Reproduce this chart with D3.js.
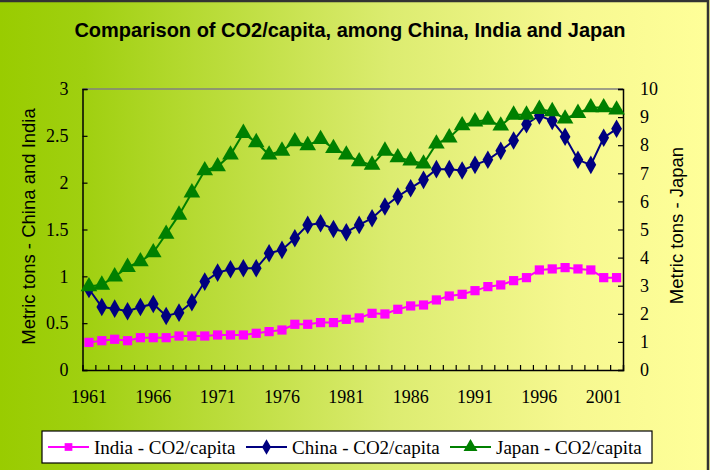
<!DOCTYPE html>
<html>
<head>
<meta charset="utf-8">
<script src="https://cdn.jsdelivr.net/npm/d3@7"></script>
<style>
  html, body { margin: 0; padding: 0; background: #fff; }
  svg { display: block; }
</style>
</head>
<body>
<svg id="chart" width="710" height="470"></svg>
<script>
const years = d3.range(1961, 2003);
const india = [0.295,0.313,0.328,0.313,0.345,0.345,0.345,0.363,0.363,0.363,0.374,0.374,0.374,0.392,
  0.41,0.427,0.488,0.488,0.506,0.506,0.541,0.556,0.605,0.598,0.648,0.684,0.694,0.748,
  0.79,0.808,0.847,0.89,0.908,0.954,0.986,1.068,1.079,1.093,1.079,1.068,0.986,0.986];
const china = [0.865,0.673,0.655,0.627,0.673,0.705,0.577,0.612,0.723,0.944,1.04,1.076,1.086,1.086,
  1.247,1.282,1.407,1.549,1.567,1.506,1.471,1.549,1.62,1.745,1.852,1.941,2.03,2.144,
  2.144,2.13,2.19,2.244,2.34,2.45,2.625,2.717,2.66,2.49,2.244,2.19,2.48,2.575];
const japan = [2.97,3.03,3.32,3.66,3.86,4.18,4.84,5.52,6.31,7.10,7.24,7.66,8.43,8.10,
  7.66,7.80,8.13,7.99,8.21,7.89,7.66,7.42,7.30,7.80,7.56,7.45,7.34,8.05,
  8.27,8.70,8.84,8.90,8.69,9.08,9.08,9.28,9.20,8.94,9.14,9.34,9.34,9.26];
const leftTicks = [0, 0.5, 1, 1.5, 2, 2.5, 3];
const rightTicks = [0,1,2,3,4,5,6,7,8,9,10];
const xLabelYears = [1961,1966,1971,1976,1981,1986,1991,1996,2001];
const seriesNames = ["India - CO2/capita", "China - CO2/capita", "Japan - CO2/capita"];
const chartTitle = "Comparison of CO2/capita, among China, India and Japan";
const leftTitle = "Metric tons - China and India";
const rightTitle = "Metric tons - Japan";

const svg = d3.select("#chart");
const W = 710, H = 470;
const m = {left: 82.5, right: 623, top: 89, bottom: 370};

const defs = svg.append("defs");
const grad = defs.append("linearGradient").attr("id", "bg").attr("x1", "0%").attr("x2", "100%").attr("y1", "0%").attr("y2", "0%");
grad.append("stop").attr("offset", "0%").attr("stop-color", "#99cc00");
grad.append("stop").attr("offset", "12%").attr("stop-color", "#a0d010");
grad.append("stop").attr("offset", "55%").attr("stop-color", "#dcec70");
grad.append("stop").attr("offset", "80%").attr("stop-color", "#f6f890");
grad.append("stop").attr("offset", "100%").attr("stop-color", "#ffff99");

svg.append("rect").attr("x", 0).attr("y", 0).attr("width", W).attr("height", H).attr("fill", "url(#bg)");
svg.append("rect").attr("x", -5).attr("y", 1).attr("width", W + 3).attr("height", H + 10)
  .attr("fill", "none").attr("stroke", "#333").attr("stroke-width", 2.5);

const x = d3.scaleBand().domain(years).range([m.left, m.right]).paddingInner(0).paddingOuter(0);
const xIdx = d3.scaleLinear().domain([0, years.length]).range([m.left, m.right]);
const yL = d3.scaleLinear().domain([0, 3]).range([m.bottom, m.top]);
const yR = d3.scaleLinear().domain([0, 10]).range([m.bottom, m.top]);
const cx = d => x(d) + x.bandwidth() / 2;

svg.append("line").attr("x1", m.left).attr("x2", m.right).attr("y1", m.top).attr("y2", m.top)
  .attr("stroke", "#808080").attr("stroke-width", 1.5);

const serif = "'Liberation Serif', 'Times New Roman', serif";
const sans = "'Liberation Sans', Arial, sans-serif";

const gL = svg.append("g").attr("transform", `translate(${m.left},0)`)
  .call(d3.axisLeft(yL).tickValues(leftTicks).tickSize(-5).tickPadding(14).tickFormat(d3.format("")));
gL.select(".domain").attr("stroke", "#000").attr("stroke-width", 1.5);
gL.selectAll(".tick line").attr("stroke", "#000").attr("stroke-width", 1.2);
gL.selectAll("text").attr("font-family", serif).attr("font-size", 18).attr("fill", "#000");

const gR = svg.append("g").attr("transform", `translate(${m.right},0)`)
  .call(d3.axisRight(yR).tickValues(rightTicks).tickSize(-5).tickPadding(17));
gR.select(".domain").attr("stroke", "#000").attr("stroke-width", 1.5);
gR.selectAll(".tick line").attr("stroke", "#000").attr("stroke-width", 1.2);
gR.selectAll("text").attr("font-family", serif).attr("font-size", 18).attr("fill", "#000");

const gB = svg.append("g").attr("transform", `translate(0,${m.bottom})`)
  .call(d3.axisBottom(xIdx).tickValues(d3.range(1, years.length)).tickSize(-5).tickFormat(""));
gB.select(".domain").attr("stroke", "#000").attr("stroke-width", 1.5);
gB.selectAll(".tick line").attr("stroke", "#000").attr("stroke-width", 1.2);

const gBL = svg.append("g").attr("transform", `translate(0,${m.bottom})`)
  .call(d3.axisBottom(x).tickValues(xLabelYears).tickSize(0).tickPadding(20));
gBL.select(".domain").remove();
gBL.selectAll("text").attr("font-family", serif).attr("font-size", 18).attr("fill", "#000");

svg.append("text").attr("x", 350).attr("y", 37).attr("text-anchor", "middle")
  .attr("font-family", sans).attr("font-weight", "bold").attr("font-size", 20).text(chartTitle);
svg.append("text").attr("transform", `translate(35,${(m.top + m.bottom) / 2 - 3}) rotate(-90)`)
  .attr("text-anchor", "middle").attr("font-family", sans).attr("font-size", 18.5).text(leftTitle);
svg.append("text").attr("transform", `translate(683,${(m.top + m.bottom) / 2 - 4}) rotate(-90)`)
  .attr("text-anchor", "middle").attr("font-family", sans).attr("font-size", 18.5).text(rightTitle);

const colors = ["#ff00ff", "#000080", "#008000"];
const sym = [d3.symbolSquare, d3.symbolDiamond, d3.symbolTriangle];
const symSize = [85, 100, 120];

function drawSeries(vals, yScale, i) {
  const line = d3.line().x((d, j) => cx(years[j])).y(d => yScale(d));
  svg.append("path").datum(vals).attr("d", line).attr("fill", "none")
    .attr("stroke", colors[i]).attr("stroke-width", 2);
  svg.append("g").selectAll("path").data(vals).join("path")
    .attr("transform", (d, j) => `translate(${cx(years[j])},${yScale(d)})`)
    .attr("d", d3.symbol().type(sym[i]).size(symSize[i]))
    .attr("fill", colors[i]);
}
drawSeries(india, yL, 0);
drawSeries(china, yL, 1);
drawSeries(japan, yR, 2);

const lg = svg.append("g");
lg.append("rect").attr("x", 42).attr("y", 431).attr("width", 610).attr("height", 32)
  .attr("fill", "#fff").attr("stroke", "#000").attr("stroke-width", 1.2);
const legendX = [48, 246, 450];
seriesNames.forEach((name, i) => {
  const lx = legendX[i], ly = 447;
  lg.append("line").attr("x1", lx).attr("x2", lx + 41).attr("y1", ly).attr("y2", ly)
    .attr("stroke", colors[i]).attr("stroke-width", 2);
  lg.append("path").attr("transform", `translate(${lx + 20.5},${ly})`)
    .attr("d", d3.symbol().type(sym[i]).size(symSize[i] * 0.7)).attr("fill", colors[i]);
  lg.append("text").attr("x", lx + 46).attr("y", ly + 6.5).attr("font-family", serif)
    .attr("font-size", 19).text(name);
});
</script>
</body>
</html>
